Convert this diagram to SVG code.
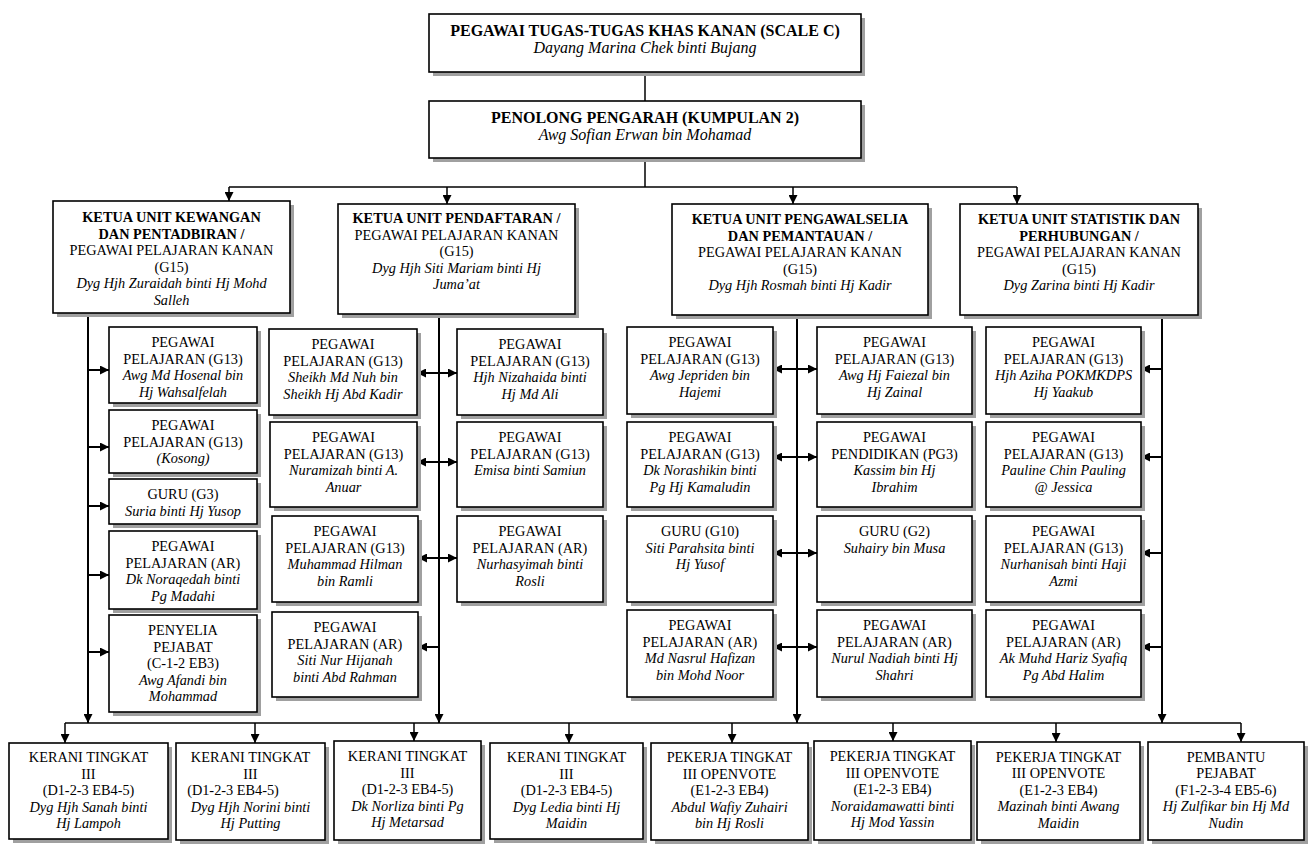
<svg xmlns="http://www.w3.org/2000/svg" width="1310" height="851" viewBox="0 0 1310 851">
<style>
.sh{fill:#a0a0a0}
.bx{fill:#fff;stroke:#000;stroke-width:1.6}
text{font-family:"Liberation Serif","Times New Roman",serif;font-size:14.3px;fill:#000;text-anchor:middle}
.h{font-weight:bold}
.big{font-size:16px}
.i{font-style:italic}
.ln{stroke:#000;stroke-width:1.5;fill:none}
.vl{stroke:#000;stroke-width:2;fill:none}
</style>
<defs>
<marker id="ah" viewBox="0 0 10 10" refX="10" refY="5" markerWidth="10" markerHeight="9" markerUnits="userSpaceOnUse" orient="auto-start-reverse">
<path d="M0,0 L10,5 L0,10 z" fill="#000"/>
</marker>
</defs>
<rect width="1310" height="851" fill="#fff"/>

<g id="connectors">
<line class="ln" x1="645" y1="72" x2="645" y2="101"/>
<line class="ln" x1="645" y1="158" x2="645" y2="187"/>
<line class="ln" x1="229" y1="187" x2="1017" y2="187"/>
<line class="ln" x1="229" y1="187" x2="229" y2="201" marker-end="url(#ah)"/>
<line class="ln" x1="447" y1="187" x2="447" y2="204" marker-end="url(#ah)"/>
<line class="ln" x1="793" y1="187" x2="793" y2="204" marker-end="url(#ah)"/>
<line class="ln" x1="1017" y1="187" x2="1017" y2="204" marker-end="url(#ah)"/>

<line class="vl" x1="88" y1="313" x2="88" y2="723" marker-end="url(#ah)"/>
<line class="vl" x1="439" y1="314" x2="439" y2="723" marker-end="url(#ah)"/>
<line class="vl" x1="797" y1="315" x2="797" y2="723" marker-end="url(#ah)"/>
<line class="vl" x1="1162" y1="315" x2="1162" y2="723" marker-end="url(#ah)"/>

<line class="vl" x1="88" y1="370" x2="109" y2="370" marker-end="url(#ah)"/>
<line class="vl" x1="88" y1="447" x2="109" y2="447" marker-end="url(#ah)"/>
<line class="vl" x1="88" y1="506" x2="109" y2="506" marker-end="url(#ah)"/>
<line class="vl" x1="88" y1="575" x2="109" y2="575" marker-end="url(#ah)"/>
<line class="vl" x1="88" y1="652" x2="109" y2="652" marker-end="url(#ah)"/>

<line class="vl" x1="417" y1="373" x2="457" y2="373" marker-start="url(#ah)" marker-end="url(#ah)"/>
<line class="vl" x1="417" y1="462" x2="457" y2="462" marker-start="url(#ah)" marker-end="url(#ah)"/>
<line class="vl" x1="418" y1="558" x2="457" y2="558" marker-start="url(#ah)" marker-end="url(#ah)"/>
<line class="vl" x1="439" y1="647" x2="418" y2="647" marker-end="url(#ah)"/>

<line class="vl" x1="773" y1="369" x2="817" y2="369" marker-start="url(#ah)" marker-end="url(#ah)"/>
<line class="vl" x1="773" y1="457" x2="817" y2="457" marker-start="url(#ah)" marker-end="url(#ah)"/>
<line class="vl" x1="773" y1="553" x2="817" y2="553" marker-start="url(#ah)" marker-end="url(#ah)"/>
<line class="vl" x1="773" y1="647" x2="817" y2="647" marker-start="url(#ah)" marker-end="url(#ah)"/>

<line class="vl" x1="1162" y1="369" x2="1141" y2="369" marker-end="url(#ah)"/>
<line class="vl" x1="1162" y1="457" x2="1141" y2="457" marker-end="url(#ah)"/>
<line class="vl" x1="1162" y1="553" x2="1141" y2="553" marker-end="url(#ah)"/>
<line class="vl" x1="1162" y1="647" x2="1141" y2="647" marker-end="url(#ah)"/>

<line class="ln" x1="65" y1="723" x2="1241" y2="723"/>
<line class="ln" x1="65" y1="723" x2="65" y2="743" marker-end="url(#ah)"/>
<line class="ln" x1="255" y1="723" x2="255" y2="743" marker-end="url(#ah)"/>
<line class="ln" x1="414" y1="723" x2="414" y2="741" marker-end="url(#ah)"/>
<line class="ln" x1="569" y1="723" x2="569" y2="743" marker-end="url(#ah)"/>
<line class="ln" x1="732" y1="723" x2="732" y2="743" marker-end="url(#ah)"/>
<line class="ln" x1="893" y1="723" x2="893" y2="741" marker-end="url(#ah)"/>
<line class="ln" x1="1056" y1="723" x2="1056" y2="742" marker-end="url(#ah)"/>
<line class="ln" x1="1241" y1="723" x2="1241" y2="742" marker-end="url(#ah)"/>
</g>

<g id="top1">
<rect class="sh" x="433" y="18" width="432" height="58"/>
<rect class="bx" x="429" y="14" width="432" height="58"/>
<text class="h big" x="645" y="36">PEGAWAI TUGAS-TUGAS KHAS KANAN (SCALE C)</text>
<text class="i big" x="645" y="53">Dayang Marina Chek binti Bujang</text>
</g>
<g id="top2">
<rect class="sh" x="433" y="105" width="432" height="57"/>
<rect class="bx" x="429" y="101" width="432" height="57"/>
<text class="h big" x="645" y="123">PENOLONG PENGARAH (KUMPULAN 2)</text>
<text class="i big" x="645" y="140">Awg Sofian Erwan bin Mohamad</text>
</g>

<g id="unit1">
<rect class="sh" x="57" y="205" width="237" height="112"/>
<rect class="bx" x="53" y="201" width="237" height="112"/>
<text class="h" x="171.5" y="222">KETUA UNIT KEWANGAN</text>
<text class="h" x="171.5" y="238.5">DAN PENTADBIRAN /</text>
<text x="171.5" y="255">PEGAWAI PELAJARAN KANAN</text>
<text x="171.5" y="271.5">(G15)</text>
<text class="i" x="171.5" y="288">Dyg Hjh Zuraidah binti Hj Mohd</text>
<text class="i" x="171.5" y="304.5">Salleh</text>
</g>
<g id="unit2">
<rect class="sh" x="342" y="208" width="237" height="110"/>
<rect class="bx" x="338" y="204" width="237" height="110"/>
<text class="h" x="456.5" y="223">KETUA UNIT PENDAFTARAN /</text>
<text x="456.5" y="239.5">PEGAWAI PELAJARAN KANAN</text>
<text x="456.5" y="256">(G15)</text>
<text class="i" x="456.5" y="272.5">Dyg Hjh Siti Mariam binti Hj</text>
<text class="i" x="456.5" y="289">Juma’at</text>
</g>
<g id="unit3">
<rect class="sh" x="676" y="208" width="256" height="111"/>
<rect class="bx" x="672" y="204" width="256" height="111"/>
<text class="h" x="800" y="224">KETUA UNIT PENGAWALSELIA</text>
<text class="h" x="800" y="240.5">DAN PEMANTAUAN /</text>
<text x="800" y="257">PEGAWAI PELAJARAN KANAN</text>
<text x="800" y="273.5">(G15)</text>
<text class="i" x="800" y="290">Dyg Hjh Rosmah binti Hj Kadir</text>
</g>
<g id="unit4">
<rect class="sh" x="964" y="208" width="238" height="111"/>
<rect class="bx" x="960" y="204" width="238" height="111"/>
<text class="h" x="1079" y="224">KETUA UNIT STATISTIK DAN</text>
<text class="h" x="1079" y="240.5">PERHUBUNGAN /</text>
<text x="1079" y="257">PEGAWAI PELAJARAN KANAN</text>
<text x="1079" y="273.5">(G15)</text>
<text class="i" x="1079" y="290">Dyg Zarina binti Hj Kadir</text>
</g>

<g id="a1">
<rect class="sh" x="113" y="331" width="148" height="76"/>
<rect class="bx" x="109" y="327" width="148" height="76"/>
<text x="183" y="347">PEGAWAI</text>
<text x="183" y="363.5">PELAJARAN (G13)</text>
<text class="i" x="183" y="380">Awg Md Hosenal bin</text>
<text class="i" x="183" y="396.5">Hj Wahsalfelah</text>
</g>
<g id="a2">
<rect class="sh" x="113" y="414" width="148" height="63"/>
<rect class="bx" x="109" y="410" width="148" height="63"/>
<text x="183" y="430">PEGAWAI</text>
<text x="183" y="446.5">PELAJARAN (G13)</text>
<text class="i" x="183" y="463">(Kosong)</text>
</g>
<g id="a3">
<rect class="sh" x="113" y="483" width="148" height="45"/>
<rect class="bx" x="109" y="479" width="148" height="45"/>
<text x="183" y="499">GURU (G3)</text>
<text class="i" x="183" y="515.5">Suria binti Hj Yusop</text>
</g>
<g id="a4">
<rect class="sh" x="113" y="535" width="148" height="78"/>
<rect class="bx" x="109" y="531" width="148" height="78"/>
<text x="183" y="551">PEGAWAI</text>
<text x="183" y="567.5">PELAJARAN (AR)</text>
<text class="i" x="183" y="584">Dk Noraqedah binti</text>
<text class="i" x="183" y="600.5">Pg Madahi</text>
</g>
<g id="a5">
<rect class="sh" x="113" y="619" width="148" height="97"/>
<rect class="bx" x="109" y="615" width="148" height="97"/>
<text x="183" y="635">PENYELIA</text>
<text x="183" y="651.5">PEJABAT</text>
<text x="183" y="668">(C-1-2 EB3)</text>
<text class="i" x="183" y="684.5">Awg Afandi bin</text>
<text class="i" x="183" y="701">Mohammad</text>
</g>

<g id="b1">
<rect class="sh" x="273" y="333" width="148" height="86"/>
<rect class="bx" x="269" y="329" width="148" height="86"/>
<text x="343" y="349">PEGAWAI</text>
<text x="343" y="365.5">PELAJARAN (G13)</text>
<text class="i" x="343" y="382">Sheikh Md Nuh bin</text>
<text class="i" x="343" y="398.5">Sheikh Hj Abd Kadir</text>
</g>
<g id="b2">
<rect class="sh" x="274" y="426" width="147" height="85"/>
<rect class="bx" x="270" y="422" width="147" height="85"/>
<text x="343.5" y="442">PEGAWAI</text>
<text x="343.5" y="458.5">PELAJARAN (G13)</text>
<text class="i" x="343.5" y="475">Nuramizah binti A.</text>
<text class="i" x="343.5" y="491.5">Anuar</text>
</g>
<g id="b3">
<rect class="sh" x="276" y="520" width="146" height="86"/>
<rect class="bx" x="272" y="516" width="146" height="86"/>
<text x="345" y="536">PEGAWAI</text>
<text x="345" y="552.5">PELAJARAN (G13)</text>
<text class="i" x="345" y="569">Muhammad Hilman</text>
<text class="i" x="345" y="585.5">bin Ramli</text>
</g>
<g id="b4">
<rect class="sh" x="276" y="616" width="146" height="85"/>
<rect class="bx" x="272" y="612" width="146" height="85"/>
<text x="345" y="632">PEGAWAI</text>
<text x="345" y="648.5">PELAJARAN (AR)</text>
<text class="i" x="345" y="665">Siti Nur Hijanah</text>
<text class="i" x="345" y="681.5">binti Abd Rahman</text>
</g>
<g id="c1">
<rect class="sh" x="461" y="333" width="146" height="86"/>
<rect class="bx" x="457" y="329" width="146" height="86"/>
<text x="530" y="349">PEGAWAI</text>
<text x="530" y="365.5">PELAJARAN (G13)</text>
<text class="i" x="530" y="382">Hjh Nizahaida binti</text>
<text class="i" x="530" y="398.5">Hj Md Ali</text>
</g>
<g id="c2">
<rect class="sh" x="461" y="426" width="146" height="85"/>
<rect class="bx" x="457" y="422" width="146" height="85"/>
<text x="530" y="442">PEGAWAI</text>
<text x="530" y="458.5">PELAJARAN (G13)</text>
<text class="i" x="530" y="475">Emisa binti Samiun</text>
</g>
<g id="c3">
<rect class="sh" x="461" y="520" width="146" height="86"/>
<rect class="bx" x="457" y="516" width="146" height="86"/>
<text x="530" y="536">PEGAWAI</text>
<text x="530" y="552.5">PELAJARAN (AR)</text>
<text class="i" x="530" y="569">Nurhasyimah binti</text>
<text class="i" x="530" y="585.5">Rosli</text>
</g>

<g id="d1">
<rect class="sh" x="631" y="331" width="146" height="87"/>
<rect class="bx" x="627" y="327" width="146" height="87"/>
<text x="700" y="347">PEGAWAI</text>
<text x="700" y="363.5">PELAJARAN (G13)</text>
<text class="i" x="700" y="380">Awg Jepriden bin</text>
<text class="i" x="700" y="396.5">Hajemi</text>
</g>
<g id="d2">
<rect class="sh" x="631" y="426" width="146" height="85"/>
<rect class="bx" x="627" y="422" width="146" height="85"/>
<text x="700" y="442">PEGAWAI</text>
<text x="700" y="458.5">PELAJARAN (G13)</text>
<text class="i" x="700" y="475">Dk Norashikin binti</text>
<text class="i" x="700" y="491.5">Pg Hj Kamaludin</text>
</g>
<g id="d3">
<rect class="sh" x="631" y="520" width="146" height="86"/>
<rect class="bx" x="627" y="516" width="146" height="86"/>
<text x="700" y="536">GURU (G10)</text>
<text class="i" x="700" y="552.5">Siti Parahsita binti</text>
<text class="i" x="700" y="569">Hj Yusof</text>
</g>
<g id="d4">
<rect class="sh" x="631" y="614" width="146" height="87"/>
<rect class="bx" x="627" y="610" width="146" height="87"/>
<text x="700" y="630">PEGAWAI</text>
<text x="700" y="646.5">PELAJARAN (AR)</text>
<text class="i" x="700" y="663">Md Nasrul Hafizan</text>
<text class="i" x="700" y="679.5">bin Mohd Noor</text>
</g>
<g id="e1">
<rect class="sh" x="821" y="331" width="155" height="87"/>
<rect class="bx" x="817" y="327" width="155" height="87"/>
<text x="894.5" y="347">PEGAWAI</text>
<text x="894.5" y="363.5">PELAJARAN (G13)</text>
<text class="i" x="894.5" y="380">Awg Hj Faiezal bin</text>
<text class="i" x="894.5" y="396.5">Hj Zainal</text>
</g>
<g id="e2">
<rect class="sh" x="821" y="426" width="155" height="85"/>
<rect class="bx" x="817" y="422" width="155" height="85"/>
<text x="894.5" y="442">PEGAWAI</text>
<text x="894.5" y="458.5">PENDIDIKAN (PG3)</text>
<text class="i" x="894.5" y="475">Kassim bin Hj</text>
<text class="i" x="894.5" y="491.5">Ibrahim</text>
</g>
<g id="e3">
<rect class="sh" x="821" y="520" width="155" height="86"/>
<rect class="bx" x="817" y="516" width="155" height="86"/>
<text x="894.5" y="536">GURU (G2)</text>
<text class="i" x="894.5" y="552.5">Suhairy bin Musa</text>
</g>
<g id="e4">
<rect class="sh" x="821" y="614" width="155" height="87"/>
<rect class="bx" x="817" y="610" width="155" height="87"/>
<text x="894.5" y="630">PEGAWAI</text>
<text x="894.5" y="646.5">PELAJARAN (AR)</text>
<text class="i" x="894.5" y="663">Nurul Nadiah binti Hj</text>
<text class="i" x="894.5" y="679.5">Shahri</text>
</g>

<g id="f1">
<rect class="sh" x="990" y="331" width="155" height="87"/>
<rect class="bx" x="986" y="327" width="155" height="87"/>
<text x="1063.5" y="347">PEGAWAI</text>
<text x="1063.5" y="363.5">PELAJARAN (G13)</text>
<text class="i" x="1063.5" y="380">Hjh Aziha POKMKDPS</text>
<text class="i" x="1063.5" y="396.5">Hj Yaakub</text>
</g>
<g id="f2">
<rect class="sh" x="990" y="426" width="155" height="85"/>
<rect class="bx" x="986" y="422" width="155" height="85"/>
<text x="1063.5" y="442">PEGAWAI</text>
<text x="1063.5" y="458.5">PELAJARAN (G13)</text>
<text class="i" x="1063.5" y="475">Pauline Chin Pauling</text>
<text class="i" x="1063.5" y="491.5">@ Jessica</text>
</g>
<g id="f3">
<rect class="sh" x="990" y="520" width="155" height="86"/>
<rect class="bx" x="986" y="516" width="155" height="86"/>
<text x="1063.5" y="536">PEGAWAI</text>
<text x="1063.5" y="552.5">PELAJARAN (G13)</text>
<text class="i" x="1063.5" y="569">Nurhanisah binti Haji</text>
<text class="i" x="1063.5" y="585.5">Azmi</text>
</g>
<g id="f4">
<rect class="sh" x="990" y="614" width="155" height="87"/>
<rect class="bx" x="986" y="610" width="155" height="87"/>
<text x="1063.5" y="630">PEGAWAI</text>
<text x="1063.5" y="646.5">PELAJARAN (AR)</text>
<text class="i" x="1063.5" y="663">Ak Muhd Hariz Syafiq</text>
<text class="i" x="1063.5" y="679.5">Pg Abd Halim</text>
</g>

<g id="k1">
<rect class="sh" x="13" y="747" width="159" height="96"/>
<rect class="bx" x="9" y="743" width="159" height="96"/>
<text x="88.5" y="762">KERANI TINGKAT</text>
<text x="88.5" y="778.5">III</text>
<text x="88.5" y="795">(D1-2-3 EB4-5)</text>
<text class="i" x="88.5" y="811.5">Dyg Hjh Sanah binti</text>
<text class="i" x="88.5" y="828">Hj Lampoh</text>
</g>
<g id="k2">
<rect class="sh" x="180" y="747" width="149" height="97"/>
<rect class="bx" x="176" y="743" width="149" height="97"/>
<text x="250.5" y="762">KERANI TINGKAT</text>
<text x="250.5" y="778.5">III</text>
<text x="233" y="795">(D1-2-3 EB4-5)</text>
<text class="i" x="250.5" y="811.5">Dyg Hjh Norini binti</text>
<text class="i" x="250.5" y="828">Hj Putting</text>
</g>
<g id="k3">
<rect class="sh" x="338" y="745" width="147" height="99"/>
<rect class="bx" x="334" y="741" width="147" height="99"/>
<text x="407.5" y="761">KERANI TINGKAT</text>
<text x="407.5" y="777.5">III</text>
<text x="407.5" y="794">(D1-2-3 EB4-5)</text>
<text class="i" x="407.5" y="810.5">Dk Norliza binti Pg</text>
<text class="i" x="407.5" y="827">Hj Metarsad</text>
</g>
<g id="k4">
<rect class="sh" x="494" y="747" width="153" height="96"/>
<rect class="bx" x="490" y="743" width="153" height="96"/>
<text x="566.5" y="762">KERANI TINGKAT</text>
<text x="566.5" y="778.5">III</text>
<text x="566.5" y="795">(D1-2-3 EB4-5)</text>
<text class="i" x="566.5" y="811.5">Dyg Ledia binti Hj</text>
<text class="i" x="566.5" y="828">Maidin</text>
</g>
<g id="k5">
<rect class="sh" x="655" y="747" width="157" height="97"/>
<rect class="bx" x="651" y="743" width="157" height="97"/>
<text x="729.5" y="762">PEKERJA TINGKAT</text>
<text x="729.5" y="778.5">III OPENVOTE</text>
<text x="729.5" y="795">(E1-2-3 EB4)</text>
<text class="i" x="729.5" y="811.5">Abdul Wafiy Zuhairi</text>
<text class="i" x="729.5" y="828">bin Hj Rosli</text>
</g>
<g id="k6">
<rect class="sh" x="818" y="745" width="157" height="99"/>
<rect class="bx" x="814" y="741" width="157" height="99"/>
<text x="892.5" y="761">PEKERJA TINGKAT</text>
<text x="892.5" y="777.5">III OPENVOTE</text>
<text x="892.5" y="794">(E1-2-3 EB4)</text>
<text class="i" x="892.5" y="810.5">Noraidamawatti binti</text>
<text class="i" x="892.5" y="827">Hj Mod Yassin</text>
</g>
<g id="k7">
<rect class="sh" x="981" y="746" width="163" height="98"/>
<rect class="bx" x="977" y="742" width="163" height="98"/>
<text x="1058.5" y="761.5">PEKERJA TINGKAT</text>
<text x="1058.5" y="778">III OPENVOTE</text>
<text x="1058.5" y="794.5">(E1-2-3 EB4)</text>
<text class="i" x="1058.5" y="811">Mazinah binti Awang</text>
<text class="i" x="1058.5" y="827.5">Maidin</text>
</g>
<g id="k8">
<rect class="sh" x="1152" y="746" width="156" height="98"/>
<rect class="bx" x="1148" y="742" width="156" height="98"/>
<text x="1226" y="761.5">PEMBANTU</text>
<text x="1226" y="778">PEJABAT</text>
<text x="1226" y="794.5">(F1-2-3-4 EB5-6)</text>
<text class="i" x="1226" y="811">Hj Zulfikar bin Hj Md</text>
<text class="i" x="1226" y="827.5">Nudin</text>
</g>
</svg>
